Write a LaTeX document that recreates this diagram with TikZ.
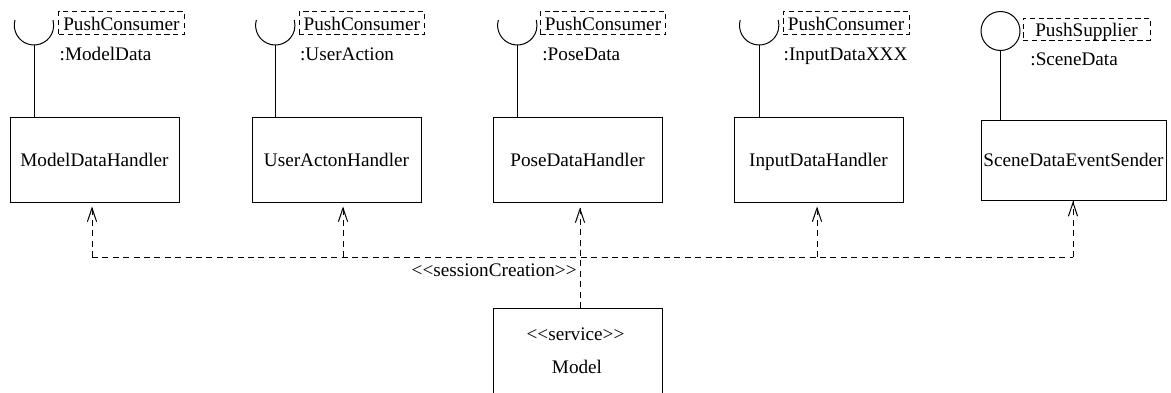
\documentclass[tikz,border=0pt]{standalone}
\usepackage{fontspec}
\setmainfont{Liberation Serif}
\usetikzlibrary{arrows.meta}
\begin{document}
\begin{tikzpicture}[x=0.5pt,y=0.5pt,
  every node/.style={font=\fontsize{9.6pt}{11.5pt}\selectfont},
  cls/.style={draw, line width=0.5pt, rectangle, inner sep=0pt, minimum width=84.5pt, minimum height=42.5pt, text height=8pt, text depth=1.5pt},
  iface/.style={draw, dash pattern=on 2.6pt off 1.8pt, line width=0.5pt, inner sep=0pt, minimum height=11.5pt, text height=8.5pt, text depth=1pt},
  port/.style={anchor=base west, inner sep=0pt},
  conn/.style={line width=0.5pt},
  dep/.style={line width=0.5pt, dash pattern=on 3pt off 2.2pt},
  opentip/.style={line width=0.5pt, solid, -{Straight Barb[length=6.8pt,width=4.6pt,line width=0.5pt]}}
]
\useasboundingbox (0,0) rectangle (1171,-392);
\clip (0,0) rectangle (1171,-392);

% classes
\node[cls] (b1) at (94.5,-159.5) {ModelDataHandler};
\node[cls] (b2) at (336.5,-159.5) {UserActonHandler};
\node[cls] (b3) at (577.5,-159.5) {PoseDataHandler};
\node[cls] (b4) at (818.5,-159.5) {InputDataHandler};
\node[cls, minimum width=92.5pt, minimum height=40pt] (b5) at (1073.5,-160) {SceneDataEventSender};
\node[cls, anchor=north, minimum height=50pt] (model) at (577.5,-308) {};
\node[anchor=base, inner sep=0pt] (svc) at (575.5,-340) {<{}<service>{}>};
\node[anchor=base, inner sep=0pt] (mname) at (577,-373) {Model};

% interface boxes
\node[iface, minimum width=62.6pt] (i1) at (121.4,-23.2) {PushConsumer};
\node[iface, minimum width=62.6pt] (i2) at (361.8,-23.2) {PushConsumer};
\node[iface, minimum width=62.6pt] (i3) at (603,-23.2) {PushConsumer};
\node[iface, minimum width=63pt] (i4) at (846,-23.2) {PushConsumer};
\node[iface, minimum width=63.5pt, minimum height=11pt] (i5) at (1086.5,-29) {PushSupplier};

% port names
\node[port] (n1) at (59.3,-60) {:ModelData};
\node[port] (n2) at (299.7,-60) {:UserAction};
\node[port] (n3) at (542,-60) {:PoseData};
\node[port] (n4) at (783.3,-60) {:InputDataXXX};
\node[port] (n5) at (1030,-65) {:SceneData};

% required sockets
\coordinate (s1) at (34,-45);
\coordinate (s2) at (275.3,-45);
\coordinate (s3) at (517.3,-45);
\coordinate (s4) at (759.2,-45);
\foreach \s in {s1,s2,s3,s4}
  \draw[conn] ([shift={(164.4:9.85pt)}]\s) ++(0,19.7) arc[start angle=164.4, end angle=375.6, radius=9.85pt];
\draw[conn] (s1) -- (s1 |- b1.north);
\draw[conn] (s2) -- (s2 |- b2.north);
\draw[conn] (s3) -- (s3 |- b3.north);
\draw[conn] (s4) -- (s4 |- b4.north);

% provided lollipop
\node[draw, circle, minimum size=19.5pt, inner sep=0pt, line width=0.5pt] (sup) at (1000.5,-31) {};
\draw[conn] (sup.south) -- (sup.south |- b5.north);

% dependencies
\coordinate (j1) at (92,-257);
\coordinate (j2) at (343,-257);
\coordinate (j3) at (580,-257);
\coordinate (j4) at (817,-257);
\coordinate (j5) at (1073,-257);
\coordinate (t1) at ([yshift=-2pt]j1 |- b1.south);
\coordinate (t2) at ([yshift=-2pt]j2 |- b2.south);
\coordinate (t3) at ([yshift=-2.5pt]j3 |- b3.south);
\coordinate (t4) at ([yshift=-2pt]j4 |- b4.south);
\coordinate (t5) at ([yshift=-0.3pt]j5 |- b5.south);
\draw[dep] (j1) -- (j5);
\draw[dep] (j1) -- (t1);
\draw[dep] (j2) -- (t2);
\draw[dep] (j3 |- model.north) -- (t3);
\draw[dep] (j4) -- (t4);
\draw[dep] (j5) -- (t5);
\foreach \t in {t1,t2,t3,t4,t5}
  \draw[opentip] ([yshift=-0.6pt]\t) -- (\t);
\node[anchor=base east, inner sep=0pt] (lbl) at (577,-276.7) {<{}<sessionCreation>{}>};
\end{tikzpicture}
\end{document}
